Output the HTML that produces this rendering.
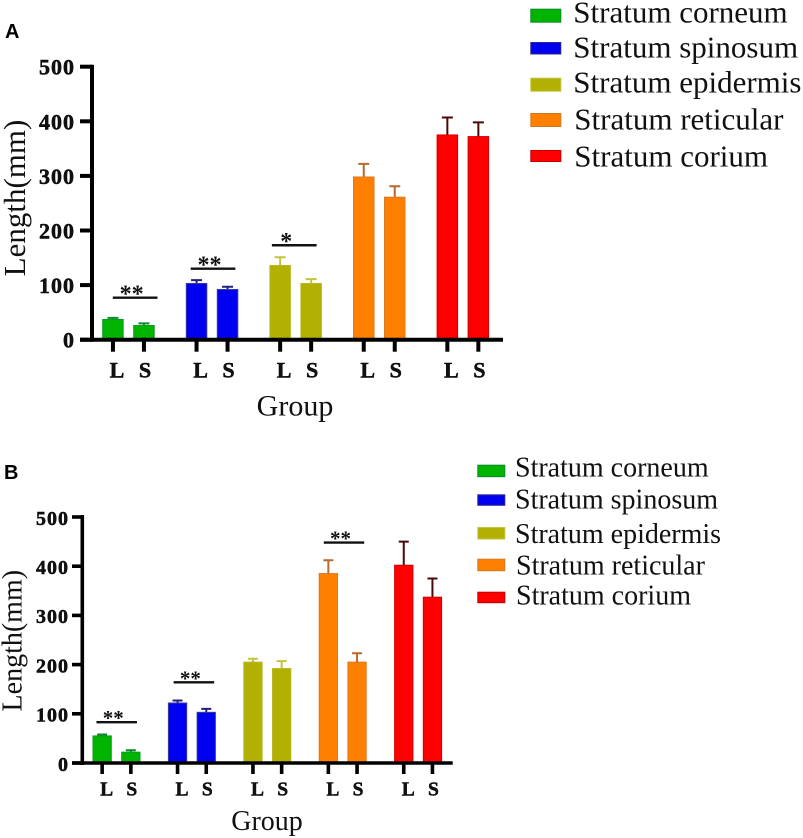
<!DOCTYPE html>
<html lang="en">
<head>
<meta charset="utf-8">
<title>Stratum length by group</title>
<style>
html,body{margin:0;padding:0;background:#fff;width:803px;height:838px;overflow:hidden}
svg{display:block;position:absolute;left:0;top:0;filter:blur(0.3px)}
text{font-family:"Liberation Serif",serif;fill:#111}
.panel-letter{font-family:"Liberation Sans",sans-serif;font-weight:700;font-size:20px;fill:#000}
.heavy{stroke:#000;stroke-width:0.45px}
</style>
</head>
<body>
<svg id="figure" width="803" height="838" viewBox="0 0 803 838" xmlns="http://www.w3.org/2000/svg">
  <text class="panel-letter" x="5" y="38">A</text>
  <text class="panel-letter" x="4" y="479">B</text>

  <g font-size="31">
    <g><rect x="530.8" y="9.2" width="30" height="13" fill="#00b400" stroke="#0a8a2a"/><text x="573.3" y="22.7">Stratum corneum</text></g>
    <g><rect x="530.8" y="42.5" width="30" height="11.5" fill="#0000f0" stroke="#2a2a90"/><text x="573.3" y="57.3">Stratum spinosum</text></g>
    <g><rect x="530.8" y="78.2" width="30" height="13" fill="#b2b000" stroke="#c4c43c"/><text x="573.3" y="92.7">Stratum epidermis</text></g>
    <g><rect x="530.8" y="113.5" width="30" height="13" fill="#ff8000" stroke="#d07a20"/><text x="574.3" y="129.3">Stratum reticular</text></g>
    <g><rect x="530.8" y="150.5" width="30" height="11" fill="#ff0000" stroke="#c00000"/><text x="574.3" y="166.7">Stratum corium</text></g>
  </g>

  <g font-size="28">
    <g><rect x="477.8" y="465.2" width="27" height="11.5" fill="#00b400" stroke="#0a8a2a"/><text x="515" y="476.7">Stratum corneum</text></g>
    <g><rect x="477.8" y="494.8" width="27" height="10.5" fill="#0000f0" stroke="#2a2a90"/><text x="515" y="508.3">Stratum spinosum</text></g>
    <g><rect x="477.8" y="527.5" width="27" height="11.5" fill="#b2b000" stroke="#c4c43c"/><text x="515" y="543">Stratum epidermis</text></g>
    <g><rect x="477.8" y="559.2" width="27" height="11.5" fill="#ff8000" stroke="#d07a20"/><text x="516" y="574.7">Stratum reticular</text></g>
    <g><rect x="477.8" y="592.2" width="27" height="10.5" fill="#ff0000" stroke="#c00000"/><text x="516" y="604.7">Stratum corium</text></g>
  </g>
</svg>
<script>
// Shared chart data
const groupNames = ['corneum', 'spinosum', 'epidermis', 'reticular', 'corium'];
const memberLabels = ['L', 'S'];
const yTickValues = [0, 100, 200, 300, 400, 500];

// Panel A values (L, S per stratum)
const panelAMeans = [[37, 26], [103, 92], [136, 103], [298, 261], [375, 372]];
const panelAUpper = [[40, 30], [109, 97], [151, 111], [322, 281], [407, 398]];
const panelASigGroups = [0, 1, 2];
const panelASigLevels = [77, 130, 173];
const panelASigLabels = ['**', '**', '*'];

// Panel B values (L, S per stratum)
const panelBMeans = [[55, 22], [122, 103], [205, 192], [385, 205], [402, 337]];
const panelBUpper = [[58, 26], [127, 110], [212, 207], [412, 223], [450, 375]];
const panelBSigGroups = [0, 1, 3];
const panelBSigLevels = [83, 164, 448];
const panelBSigLabels = ['**', '**', '**'];

const fills = ['#00b400', '#0000f0', '#b2b000', '#ff8000', '#ff0000'];
const edges = ['#0a9a20', '#3a3aa0', '#b8b820', '#d9781c', '#d00000'];
const whiskers = ['#0a8a2a', '#20207a', '#c4c43c', '#b8692c', '#4a0808'];

const svg = document.getElementById('figure');
const NS = 'http://www.w3.org/2000/svg';

function make(parent, tag, attrs, content) {
  const el = document.createElementNS(NS, tag);
  for (const k in attrs) el.setAttribute(k, attrs[k]);
  if (content !== undefined) el.textContent = content;
  parent.appendChild(el);
  return el;
}

function drawPanel(p) {
  const y = v => p.y0 - v * p.yPerUnit;
  const barLeft = (g, m) => p.x0 + g * p.groupStep + m * p.memberStep;
  const barCentre = (g, m) => barLeft(g, m) + p.barW / 2;

  const root = make(svg, 'g', {});
  
  

  // bars and error bars
  p.means.forEach((pair, g) => {
    pair.forEach((mean, m) => {
      const c = barCentre(g, m);
      const hi = p.upper[g][m];
      const whisker = make(root, 'path', {
        d: 'M' + c + ' ' + y(mean) + 'V' + y(hi) + 'M' + (c - p.capW / 2) + ' ' + y(hi) + 'H' + (c + p.capW / 2),
        fill: 'none', stroke: whiskers[g], 'stroke-width': 2
      });
      
      
      const bar = make(root, 'rect', {
        x: barLeft(g, m) + 0.5, y: y(mean), width: p.barW - 1, height: Math.max(0, p.y0 - y(mean)),
        fill: fills[g], stroke: edges[g], 'stroke-width': 1
      });
      
      
    });
  });

  // axes
  const yAxis = make(root, 'line', {
    x1: p.axisX, x2: p.axisX, y1: y(500) - 2, y2: p.y0 + 2, stroke: '#000', 'stroke-width': p.axisW
  });
  
  
  const xAxis = make(root, 'line', {
    x1: p.tickLeft, x2: p.axisEnd, y1: p.y0, y2: p.y0, stroke: '#000', 'stroke-width': p.axisW
  });
  
  

  // y ticks
  yTickValues.forEach(v => {
    const t = make(root, 'line', {
      x1: p.tickLeft, x2: p.axisX, y1: y(v), y2: y(v), stroke: '#000', 'stroke-width': p.axisW
    });
    
    
    const lab = make(root, 'text', {
      x: p.yLabelX, y: y(v) + p.yLabelDy, 'text-anchor': 'end', 'font-weight': 700,
      'font-size': p.yLabelSize, 'letter-spacing': 1, class: 'heavy'
    }, String(v));
    
    
  });

  // x ticks
  p.means.forEach((pair, g) => {
    pair.forEach((_, m) => {
      const c = barCentre(g, m);
      const t = make(root, 'line', {
        x1: c, x2: c, y1: p.y0, y2: p.y0 + p.tickLen, stroke: '#000', 'stroke-width': p.axisW
      });
      
      
      const lab = make(root, 'text', {
        x: c + p.labelShift[m], y: p.xLabelY, 'text-anchor': 'middle', 'font-weight': 700,
        'font-size': p.xLabelSize, class: 'heavy'
      }, memberLabels[m]);
      
      
    });
  });

  // significance brackets
  p.sigGroups.forEach((g, i) => {
    const mid = (barCentre(g, 0) + barCentre(g, 1)) / 2 + p.sigNudge[i];
    const line = make(root, 'line', {
      x1: mid - p.sigW / 2, x2: mid + p.sigW / 2, y1: y(p.sigLevels[i]), y2: y(p.sigLevels[i]),
      stroke: '#111', 'stroke-width': 2.4
    });
    
    
    const starShift = p.sigLabels[i].length === 1 ? -8 : -3.5;
    const star = make(root, 'text', {
      x: mid + starShift, y: y(p.sigLevels[i]) + p.starDy, 'text-anchor': 'middle',
      'font-weight': 700, 'font-size': p.starSize
    }, p.sigLabels[i]);
    
    
  });

  // axis titles
  const yt = make(root, 'text', {
    x: 0, y: 0, 'text-anchor': 'middle', 'font-size': p.titleY.size,
    transform: 'translate(' + p.titleY.x + ' ' + p.titleY.y + ') rotate(-90)'
  }, 'Length(mm)');
  
  
  const xt = make(root, 'text', {
    x: p.titleX.x, y: p.titleX.y, 'text-anchor': 'middle', 'font-size': p.titleX.size
  }, 'Group');
  
  
}

drawPanel({
  id: 'panel-a', means: panelAMeans, upper: panelAUpper,
  sigGroups: panelASigGroups, sigLevels: panelASigLevels, sigLabels: panelASigLabels,
  sigNudge: [6.7, 1, -1.4], sigW: 44.7, starDy: 4, starSize: 24,
  y0: 339.7, yPerUnit: 0.546, x0: 102.2, groupStep: 83.6, memberStep: 31, barW: 21.5, capW: 11,
  axisX: 92, axisW: 4, axisEnd: 503, tickLeft: 80, tickLen: 12,
  yLabelX: 75, yLabelDy: 8, yLabelSize: 22, xLabelY: 377.7, xLabelSize: 22, labelShift: [4, 1],
  titleY: {x: 25, y: 198, size: 31}, titleX: {x: 295, y: 415.7, size: 30}
});

drawPanel({
  id: 'panel-b', means: panelBMeans, upper: panelBUpper,
  sigGroups: panelBSigGroups, sigLevels: panelBSigLevels, sigLabels: panelBSigLabels,
  sigNudge: [0.2, 2, 1.3], sigW: 40.5, starDy: 3, starSize: 21,
  y0: 763, yPerUnit: 0.492, x0: 92.5, groupStep: 75.4, memberStep: 28.7, barW: 19.3, capW: 10,
  axisX: 82.3, axisW: 3.6, axisEnd: 452.7, tickLeft: 72, tickLen: 11,
  yLabelX: 69, yLabelDy: 7.8, yLabelSize: 20, xLabelY: 795.3, xLabelSize: 19.5, labelShift: [4.5, 1],
  titleY: {x: 21.7, y: 640.7, size: 28}, titleX: {x: 267, y: 830, size: 28}
});
</script>
</body>
</html>
